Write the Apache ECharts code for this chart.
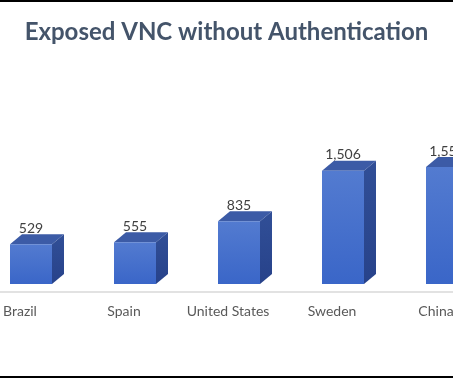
<!DOCTYPE html>
<html>
<head>
<meta charset="utf-8">
<script src="https://cdn.jsdelivr.net/npm/echarts@6/dist/echarts.min.js"></script>
<style>
html,body{margin:0;padding:0;background:#fff;}
#frame{position:absolute;left:0;top:0;width:453px;height:378px;box-sizing:border-box;border-top:2px solid #000;border-bottom:2px solid #000;}
#chart{width:453px;height:374px;}
</style>
</head>
<body>
<div id="frame"><div id="chart"></div></div>
<script>
const categories = ["Brazil", "Spain", "United States", "Sweden", "China"];
const values = [529, 555, 835, 1506, 1556];
const valueLabels = ["529", "555", "835", "1,506", "1,556"];

const chart = echarts.init(document.getElementById('chart'), null, {renderer: 'canvas'});

const FRONT_L = -10, FRONT_R = 32, DX = 12, DY = 10;

function renderItem(params, api) {
  const idx = api.value(0);
  const top = api.coord([idx, api.value(1)]);
  const base = api.coord([idx, 0]);
  const x0 = top[0] + FRONT_L, x1 = top[0] + FRONT_R;
  const yt = top[1], yb = base[1];
  const children = [
    {type: 'polygon', shape: {points: [[x0, yt], [x1, yt], [x1 + DX, yt - DY], [x0 + DX, yt - DY]]},
     style: {fill: '#3c5ba6'}},
    {type: 'polygon', shape: {points: [[x1, yt], [x1 + DX, yt - DY], [x1 + DX, yb - DY], [x1, yb]]},
     style: {fill: new echarts.graphic.LinearGradient(0, 0, 0, 1, [{offset: 0, color: '#314f97'}, {offset: 1, color: '#27428a'}])}},
    {type: 'rect', shape: {x: x0, y: yt, width: x1 - x0, height: yb - yt},
     style: {fill: new echarts.graphic.LinearGradient(0, 0, 0, 1, [{offset: 0, color: '#537bd0'}, {offset: 1, color: '#3a66c8'}])}},
    {type: 'text', style: {text: valueLabels[idx], x: (x0 + x1) / 2, y: yt - 16, align: 'center', verticalAlign: 'middle',
      fill: '#404040', font: '14px Lato'}}
  ];
  return {type: 'group', children: children};
}

chart.setOption({
  animation: false,
  title: {
    text: 'Exposed VNC without Authentication',
    left: 'center', top: 13,
    textStyle: {fontFamily: 'Lato', fontWeight: 'bold', fontSize: 24, color: '#44546a'}
  },
  grid: {left: -32, right: -35, top: 131.6, bottom: 92, containLabel: false, outerBoundsMode: 'none'},
  xAxis: {
    type: 'category', data: categories,
    offset: 8,
    axisLine: {onZero: false, lineStyle: {color: '#d9d9d9', width: 1.5}},
    axisTick: {show: false},
    axisLabel: {color: '#595959', fontFamily: 'Lato', fontSize: 14, margin: 12, interval: 0}
  },
  yAxis: {type: 'value', min: 0, max: 2000, show: false, splitLine: {show: false}},
  series: [{
    type: 'custom',
    renderItem: renderItem,
    data: values.map((v, i) => [i, v]),
    clip: false
  }]
});
</script>
</body>
</html>
